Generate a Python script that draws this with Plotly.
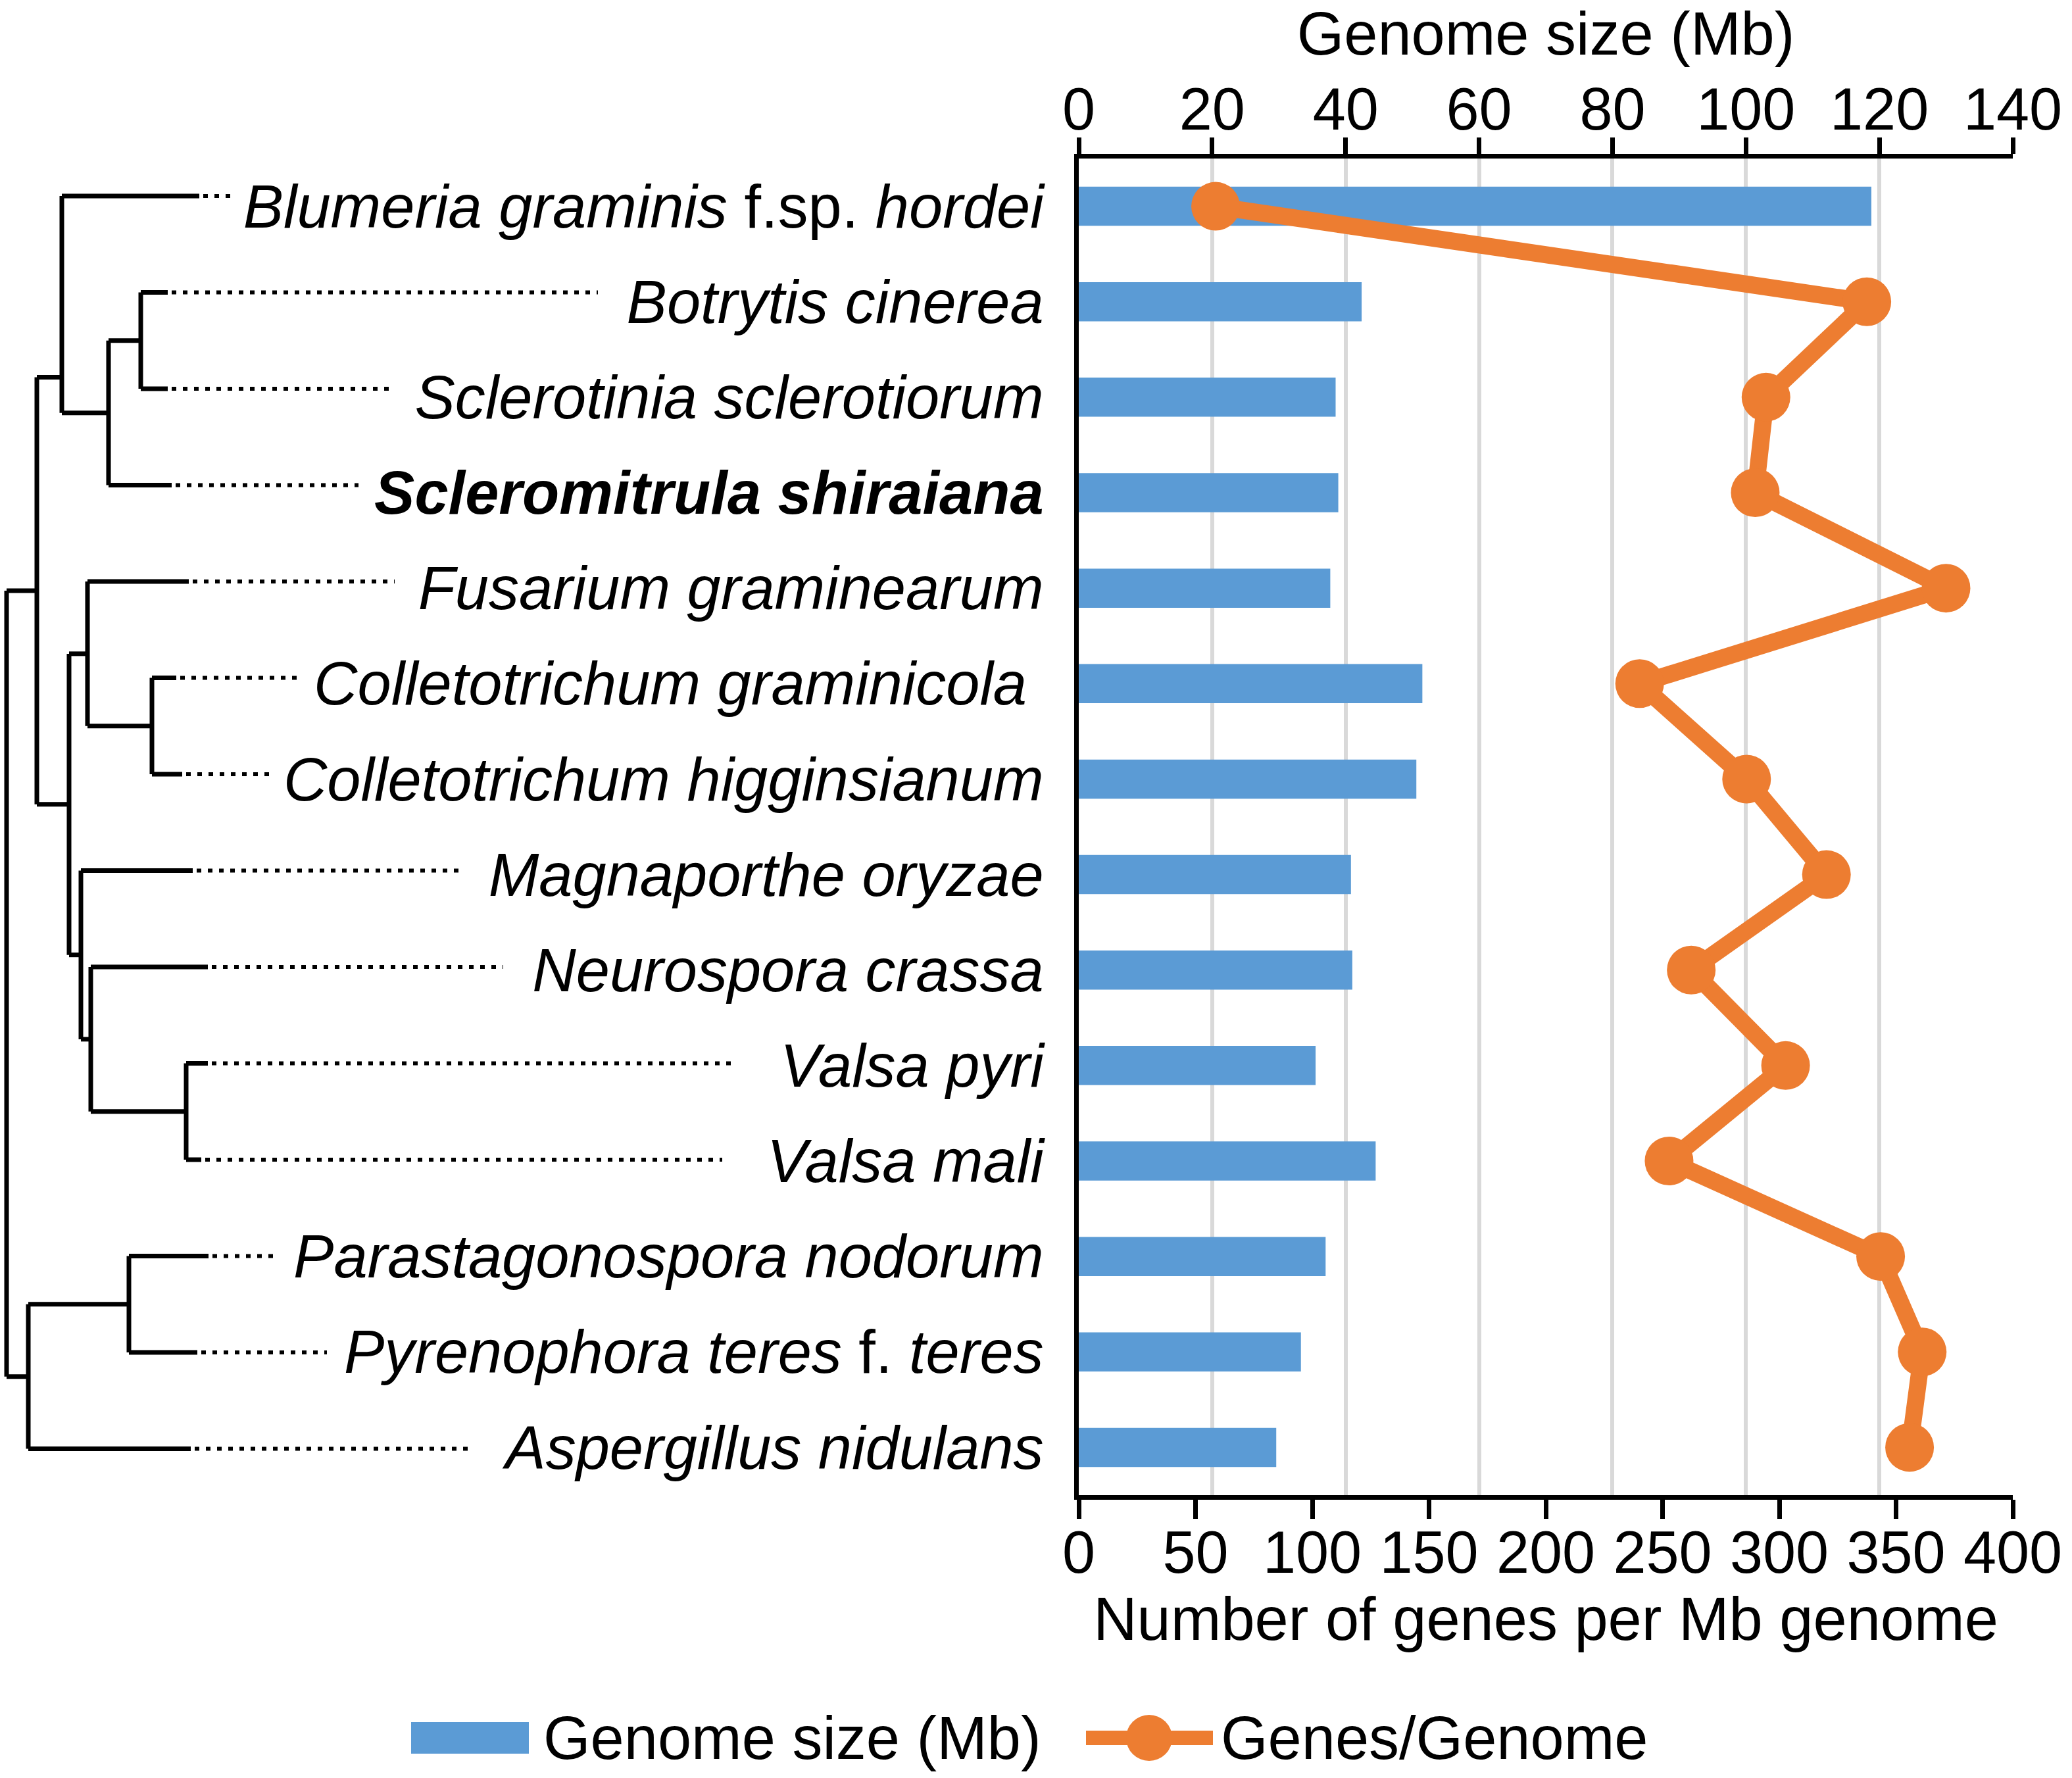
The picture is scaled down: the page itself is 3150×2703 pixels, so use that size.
import plotly.graph_objects as go

# ---------------- data ----------------
species = [
    "Blumeria graminis f.sp. hordei", "Botrytis cinerea", "Sclerotinia sclerotiorum",
    "Scleromitrula shiraiana", "Fusarium graminearum", "Colletotrichum graminicola",
    "Colletotrichum higginsianum", "Magnaporthe oryzae", "Neurospora crassa",
    "Valsa pyri", "Valsa mali", "Parastagonospora nodorum",
    "Pyrenophora teres f. teres", "Aspergillus nidulans",
]
species_labels = [
    "<i>Blumeria graminis</i> f.sp. <i>hordei</i>",
    "<i>Botrytis cinerea</i>",
    "<i>Sclerotinia sclerotiorum</i>",
    "<b><i>Scleromitrula shiraiana</i></b>",
    "<i>Fusarium graminearum</i>",
    "<i>Colletotrichum graminicola</i>\u00a0",
    "<i>Colletotrichum higginsianum</i>",
    "<i>Magnaporthe oryzae</i>",
    "<i>Neurospora crassa</i>",
    "<i>Valsa pyri</i>",
    "<i>Valsa mali</i>",
    "<i>Parastagonospora nodorum</i>",
    "<i>Pyrenophora teres</i> f. <i>teres</i>",
    "<i>Aspergillus nidulans</i>",
]
genome_size_mb = [118.8, 42.4, 38.5, 38.9, 37.7, 51.5, 50.6, 40.8, 41.0, 35.5, 44.5, 37.0, 33.3, 29.6]
genes_per_mb = [58.6, 337.5, 294.3, 289.7, 371.4, 240.2, 286.0, 320.2, 262.3, 302.7, 252.8, 343.4, 361.2, 355.8]

top_ticks = [0, 20, 40, 60, 80, 100, 120, 140]
bottom_ticks = [0, 50, 100, 150, 200, 250, 300, 350, 400]

legend_names = ["Genome size (Mb)", "Genes/Genome"]

# phylogeny (cladogram): internal node -> (depth, children)
tree_nodes = {
    "root": (10, ["C1", "C2"]),
    "C1": (56, ["A", "B"]),
    "A": (94, ["Blumeria graminis f.sp. hordei", "A2"]),
    "A2": (165, ["A3", "Scleromitrula shiraiana"]),
    "A3": (214, ["Botrytis cinerea", "Sclerotinia sclerotiorum"]),
    "B": (105, ["F", "M"]),
    "F": (133, ["Fusarium graminearum", "Co"]),
    "Co": (231, ["Colletotrichum graminicola", "Colletotrichum higginsianum"]),
    "M": (123, ["Magnaporthe oryzae", "N"]),
    "N": (138, ["Neurospora crassa", "V"]),
    "V": (283, ["Valsa pyri", "Valsa mali"]),
    "C2": (43, ["P", "Aspergillus nidulans"]),
    "P": (196, ["Parastagonospora nodorum", "Pyrenophora teres f. teres"]),
}
node_attach_override = {"A": 1.88}
# leaf tip depth (solid branch end) and dotted leader end
leaf_tip = [303, 255, 255, 261, 287, 268, 277, 293, 316, 316, 306, 317, 300, 290]
leader_end = [351, 909, 593, 545, 600, 460, 418, 702, 765, 1116, 1098, 415, 497, 721]

# ---------------- layout constants ----------------
W, H = 3150, 2703
FONT = "Liberation Sans, Arial, sans-serif"
BLUE = "#5B9BD5"
ORANGE = "#ED7D31"
px_l, px_r, px_t, px_b = 1640, 3060, 241, 2273
xdom = [px_l / W, px_r / W]
ydom = [(H - px_b) / H, (H - px_t) / H]

def px(x):
    return x / W

def py(y):
    return (H - y) / H

# ---------------- tree geometry ----------------
leaf_y = {name: i for i, name in enumerate(species)}
node_y = {}

def get_y(n):
    if n in leaf_y:
        return leaf_y[n]
    if n in node_y:
        return node_y[n]
    ys = [get_y(c) for c in tree_nodes[n][1]]
    y = node_attach_override.get(n, (min(ys) + max(ys)) / 2)
    node_y[n] = y
    return y

tx, ty = [], []
for n, (d, ch) in tree_nodes.items():
    ys = [get_y(c) for c in ch]
    tx += [d, d, None]
    ty += [min(ys), max(ys), None]
    for c in ch:
        if c in leaf_y:
            tx += [d, leaf_tip[leaf_y[c]], None]
        else:
            tx += [d, tree_nodes[c][0], None]
        ty += [get_y(c), get_y(c), None]

dx, dy = [], []
for i in range(len(species)):
    dx += [leaf_tip[i] + 6, leader_end[i], None]
    dy += [i, i, None]

fig = go.Figure()

# bars on the main (top, Mb) axis; line on the overlaying bottom axis so it is drawn above
fig.add_trace(go.Bar(
    y=species, x=genome_size_mb, orientation="h", xaxis="x", yaxis="y",
    marker=dict(color=BLUE, line=dict(width=0)), name=legend_names[0], showlegend=False,
))
fig.add_trace(go.Scatter(
    y=species, x=genes_per_mb, xaxis="x2", yaxis="y", mode="lines+markers",
    line=dict(color=ORANGE, width=26), marker=dict(color=ORANGE, size=74),
    name=legend_names[1], showlegend=False,
))
fig.add_trace(go.Scatter(
    x=tx, y=ty, xaxis="x3", yaxis="y3", mode="lines",
    line=dict(color="black", width=7), showlegend=False, hoverinfo="skip",
))
fig.add_trace(go.Scatter(
    x=dx, y=dy, xaxis="x3", yaxis="y3", mode="lines",
    line=dict(color="black", width=6, dash="7px,10px"), showlegend=False, hoverinfo="skip",
))

axis_font = dict(family=FONT, size=90, color="black")
title_font = dict(family=FONT, size=92, color="black")

# leaf spacing for tree y axis
leaf_top_px, leaf_step_px = 298, 146.5
y3_top = (px_t - leaf_top_px) / leaf_step_px
y3_bot = (px_b - leaf_top_px) / leaf_step_px

# ---------------- legend (drawn glyphs + text) ----------------
shapes = [
    dict(type="rect", xref="paper", yref="paper", x0=px(625), x1=px(804), y0=py(2666), y1=py(2618),
         fillcolor=BLUE, line=dict(width=0)),
    dict(type="line", xref="paper", yref="paper", x0=px(1651), x1=px(1844), y0=py(2642), y1=py(2642),
         line=dict(color=ORANGE, width=22)),
    dict(type="circle", xref="paper", yref="paper", x0=px(1712), x1=px(1782), y0=py(2677), y1=py(2607),
         fillcolor=ORANGE, line=dict(width=0)),
]
annotations = [
    dict(text=legend_names[0], xref="paper", yref="paper", x=px(824), y=py(2642), xanchor="left",
         yanchor="middle", showarrow=False, font=dict(family=FONT, size=92, color="black")),
    dict(text=legend_names[1], xref="paper", yref="paper", x=px(1854), y=py(2642), xanchor="left",
         yanchor="middle", showarrow=False, font=dict(family=FONT, size=92, color="black")),
]

fig.update_layout(
    width=W, height=H,
    margin=dict(l=0, r=0, t=0, b=0),
    paper_bgcolor="white", plot_bgcolor="white",
    font=dict(family=FONT, size=92, color="black"),
    bargap=0.59,
    showlegend=False,
    shapes=shapes,
    annotations=annotations,
    xaxis=dict(
        domain=xdom, range=[0, 140], tickvals=top_ticks, side="top", anchor="y",
        showgrid=True, gridcolor="#D9D9D9", gridwidth=6, zeroline=False,
        showline=True, linecolor="black", linewidth=7,
        ticks="outside", ticklen=25, tickwidth=7, tickcolor="black", tickfont=axis_font,
        ticklabelstandoff=-24,
        title=dict(text="Genome size (Mb)", font=title_font, standoff=44),
        automargin=False,
    ),
    xaxis2=dict(
        domain=xdom, range=[0, 400], tickvals=bottom_ticks, side="bottom", anchor="y",
        overlaying="x", showgrid=False, zeroline=False, showline=True, linecolor="black", linewidth=7,
        ticks="outside", ticklen=29, tickwidth=7, tickcolor="black", tickfont=axis_font,
        ticklabelstandoff=-26,
        title=dict(text="Number of genes per Mb genome", font=title_font, standoff=14),
        automargin=False,
    ),
    yaxis=dict(
        domain=ydom, type="category", categoryorder="array", categoryarray=species,
        range=[len(species) - 0.5, -0.5], tickvals=species, ticktext=species_labels,
        showgrid=False, zeroline=False, showline=True, linecolor="black", linewidth=7,
        ticks="", tickfont=dict(family=FONT, size=92, color="black"),
        ticklabelstandoff=28, automargin=False, anchor="x",
    ),
    xaxis3=dict(domain=[0, xdom[0]], range=[0, px_l], visible=False, anchor="y3", fixedrange=True),
    yaxis3=dict(domain=ydom, range=[y3_bot, y3_top], visible=False, anchor="x3", fixedrange=True),
)

fig.write_html("out.html", config={"displayModeBar": False},
               post_script="document.body.style.margin='0';")
